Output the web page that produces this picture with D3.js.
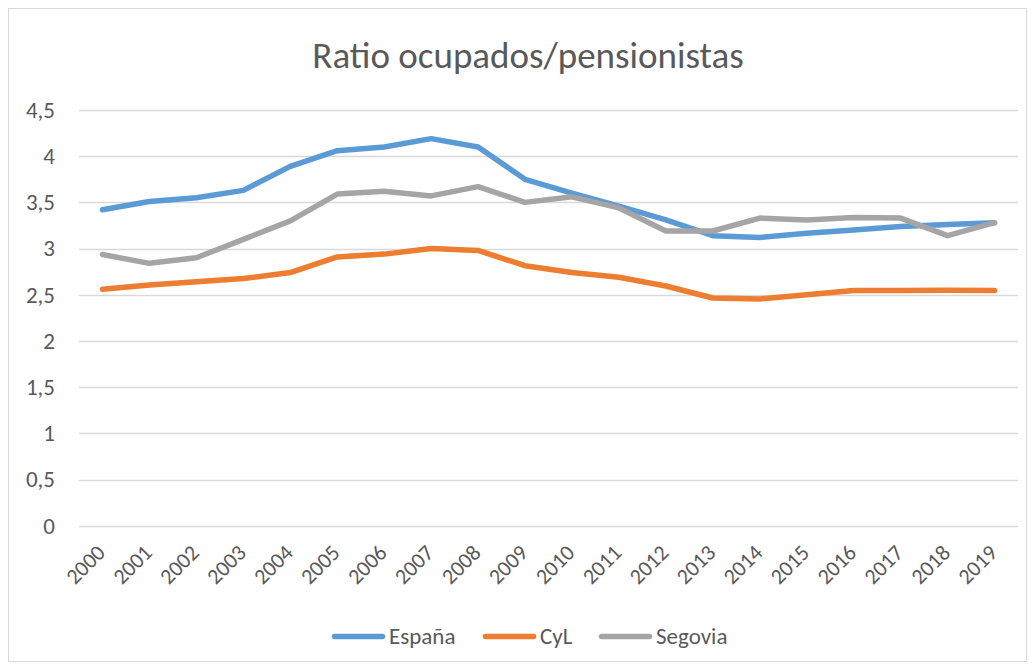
<!DOCTYPE html>
<html><head><meta charset="utf-8">
<script src="https://cdn.jsdelivr.net/npm/d3@7/dist/d3.min.js"></script>
<style>body{margin:0;background:#fff}text{font-family:Carlito,"Open Sans","Noto Sans",sans-serif}</style>
</head><body><svg id="c" width="1035" height="669"></svg>
<script>
const years = ["2000","2001","2002","2003","2004","2005","2006","2007","2008","2009","2010","2011","2012","2013","2014","2015","2016","2017","2018","2019"];
const espana = [3.42,3.51,3.55,3.63,3.89,4.06,4.10,4.19,4.10,3.75,3.60,3.46,3.31,3.14,3.12,3.165,3.20,3.24,3.26,3.28];
const cyl = [2.56,2.605,2.64,2.675,2.74,2.91,2.94,3.00,2.98,2.815,2.74,2.69,2.595,2.465,2.455,2.50,2.545,2.545,2.55,2.545];
const segovia = [2.935,2.84,2.90,3.10,3.30,3.59,3.62,3.57,3.67,3.50,3.56,3.44,3.19,3.19,3.33,3.31,3.335,3.33,3.14,3.28];
const yTicks = [0,0.5,1,1.5,2,2.5,3,3.5,4,4.5];
const seriesNames = ["España","CyL","Segovia"];
const colors = ["#5B9BD5","#ED7D31","#A5A5A5"];
const title = "Ratio ocupados/pensionistas";

const series = [espana,cyl,segovia];
const svg = d3.select("#c");
svg.append("rect").attr("x",8.5).attr("y",8.5).attr("width",1018).attr("height",653)
  .attr("fill","#fff").attr("stroke","#d9d9d9");

const x = d3.scaleBand().domain(years).range([79,1018]);
const y = d3.scaleLinear().domain([0,4.5]).range([525.7,110]);
const fmt = d => String(d).replace(".",",");

// gridlines
svg.append("g").selectAll("line").data(yTicks).join("line")
  .attr("x1",79).attr("x2",1018)
  .attr("y1",d=>Math.round(y(d))+0.5).attr("y2",d=>Math.round(y(d))+0.5)
  .attr("stroke","#d9d9d9").attr("stroke-width",1.3);

// y axis labels
const ya = svg.append("g").attr("transform","translate(55,0)")
  .call(d3.axisLeft(y).tickValues(yTicks).tickFormat(fmt).tickSize(0).tickPadding(0));
ya.select(".domain").remove();
ya.selectAll("text").attr("fill","#595959").style("font-size","23px");

// x axis labels
const xa = svg.append("g").attr("transform","translate(0,530)")
  .call(d3.axisBottom(x).tickSize(0).tickPadding(0));
xa.select(".domain").remove();
xa.selectAll("text").attr("fill","#595959").style("font-size","22px")
  .attr("text-anchor","end").attr("dy","0")
  .attr("transform","translate(4,24) rotate(-45)");

// lines
const line = d3.line().x((d,i)=>x(years[i])+x.bandwidth()/2).y(d=>y(d));
svg.append("g").selectAll("path").data(series).join("path")
  .attr("d",line).attr("fill","none")
  .attr("stroke",(d,i)=>colors[i]).attr("stroke-width",5.5)
  .attr("stroke-linejoin","round").attr("stroke-linecap","round");

// title
svg.append("text").attr("x",528).attr("y",68).attr("text-anchor","middle")
  .attr("fill","#595959").style("font-size","37px").text(title);

// legend
const lx = [332,483,599];
const lg = svg.append("g");
seriesNames.forEach((n,i)=>{
  lg.append("line").attr("x1",lx[i]+2.5).attr("x2",lx[i]+50.5).attr("y1",636.5).attr("y2",636.5)
    .attr("stroke",colors[i]).attr("stroke-width",5.5).attr("stroke-linecap","round");
  lg.append("text").attr("x",lx[i]+57).attr("y",644).attr("fill","#595959")
    .style("font-size","23px").text(n);
});
</script></body></html>
